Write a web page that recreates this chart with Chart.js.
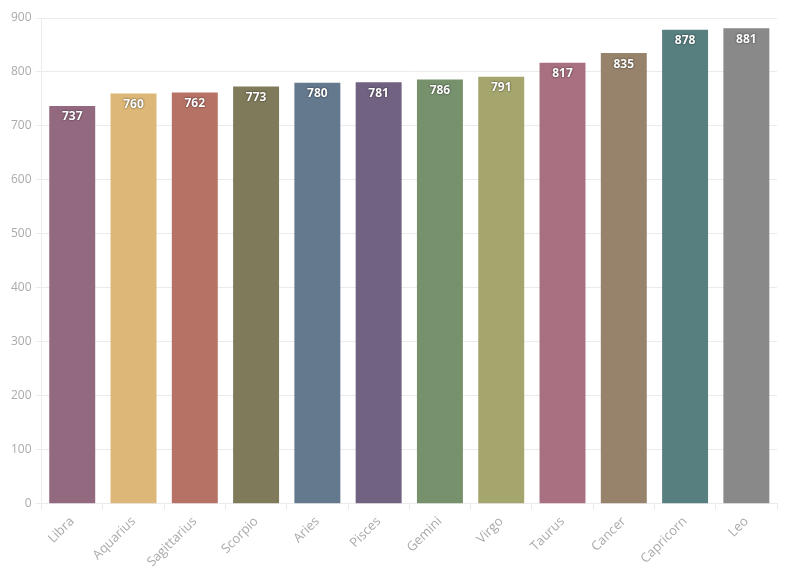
<!DOCTYPE html>
<html>
<head>
<meta charset="utf-8">
<script src="https://cdn.jsdelivr.net/npm/chart.js@4/dist/chart.umd.min.js"></script>
<style>
html,body{margin:0;padding:0;background:#fff;}
#wrap{width:796px;height:575px;}
</style>
</head>
<body>
<div id="wrap"><canvas id="c" width="796" height="575"></canvas></div>
<script>
const categories = ["Libra","Aquarius","Sagittarius","Scorpio","Aries","Pisces","Gemini","Virgo","Taurus","Cancer","Capricorn","Leo"];
const values = [737,760,762,773,780,781,786,791,817,835,878,881];
const barColors = ["#93697F","#DCB777","#B77266","#7F7A5A","#64788E","#716282","#77916D","#A5A56E","#A87080","#97836B","#577F80","#898989"];
const yTicks = [0,100,200,300,400,500,600,700,800,900];

const labelPlugin = {
  id: 'barLabels',
  afterDatasetsDraw(chart) {
    const ctx = chart.ctx;
    const meta = chart.getDatasetMeta(0);
    ctx.save();
    ctx.font = 'bold 12px "Open Sans", sans-serif';
    ctx.textAlign = 'center';
    ctx.textBaseline = 'middle';
    ctx.fillStyle = '#ffffff';
    ctx.shadowColor = 'rgba(0,0,0,0.75)';
    ctx.shadowBlur = 2;
    ctx.shadowOffsetX = 0;
    ctx.shadowOffsetY = 0;
    meta.data.forEach((bar, i) => {
      ctx.fillText(String(values[i]), bar.x, bar.y + 11);
    });
    ctx.restore();
  }
};

new Chart(document.getElementById('c'), {
  type: 'bar',
  data: {
    labels: categories,
    datasets: [{
      data: values,
      backgroundColor: barColors,
      borderWidth: 0,
      barPercentage: 0.75,
      categoryPercentage: 1.0
    }]
  },
  options: {
    responsive: false,
    animation: false,
    layout: { padding: { top: 18, right: 19, left: 7, bottom: 1 } },
    plugins: { legend: { display: false }, tooltip: { enabled: false } },
    scales: {
      x: {
        grid: { display: true, drawOnChartArea: false, color: '#ebebeb', tickLength: 6 },
        border: { color: '#ebebeb' },
        ticks: { color: '#aaaaaa', font: { family: '"Open Sans", sans-serif', size: 13 }, maxRotation: 45, minRotation: 45, padding: 4 }
      },
      y: {
        min: 0, max: 900,
        afterBuildTicks(axis) { axis.ticks = yTicks.map(v => ({ value: v })); },
        grid: { color: '#ebebeb', tickLength: 6 },
        border: { color: '#ebebeb' },
        ticks: { color: '#aaaaaa', font: { family: '"Open Sans", sans-serif', size: 12 }, padding: 4 }
      }
    }
  },
  plugins: [labelPlugin]
});
</script>
</body>
</html>
